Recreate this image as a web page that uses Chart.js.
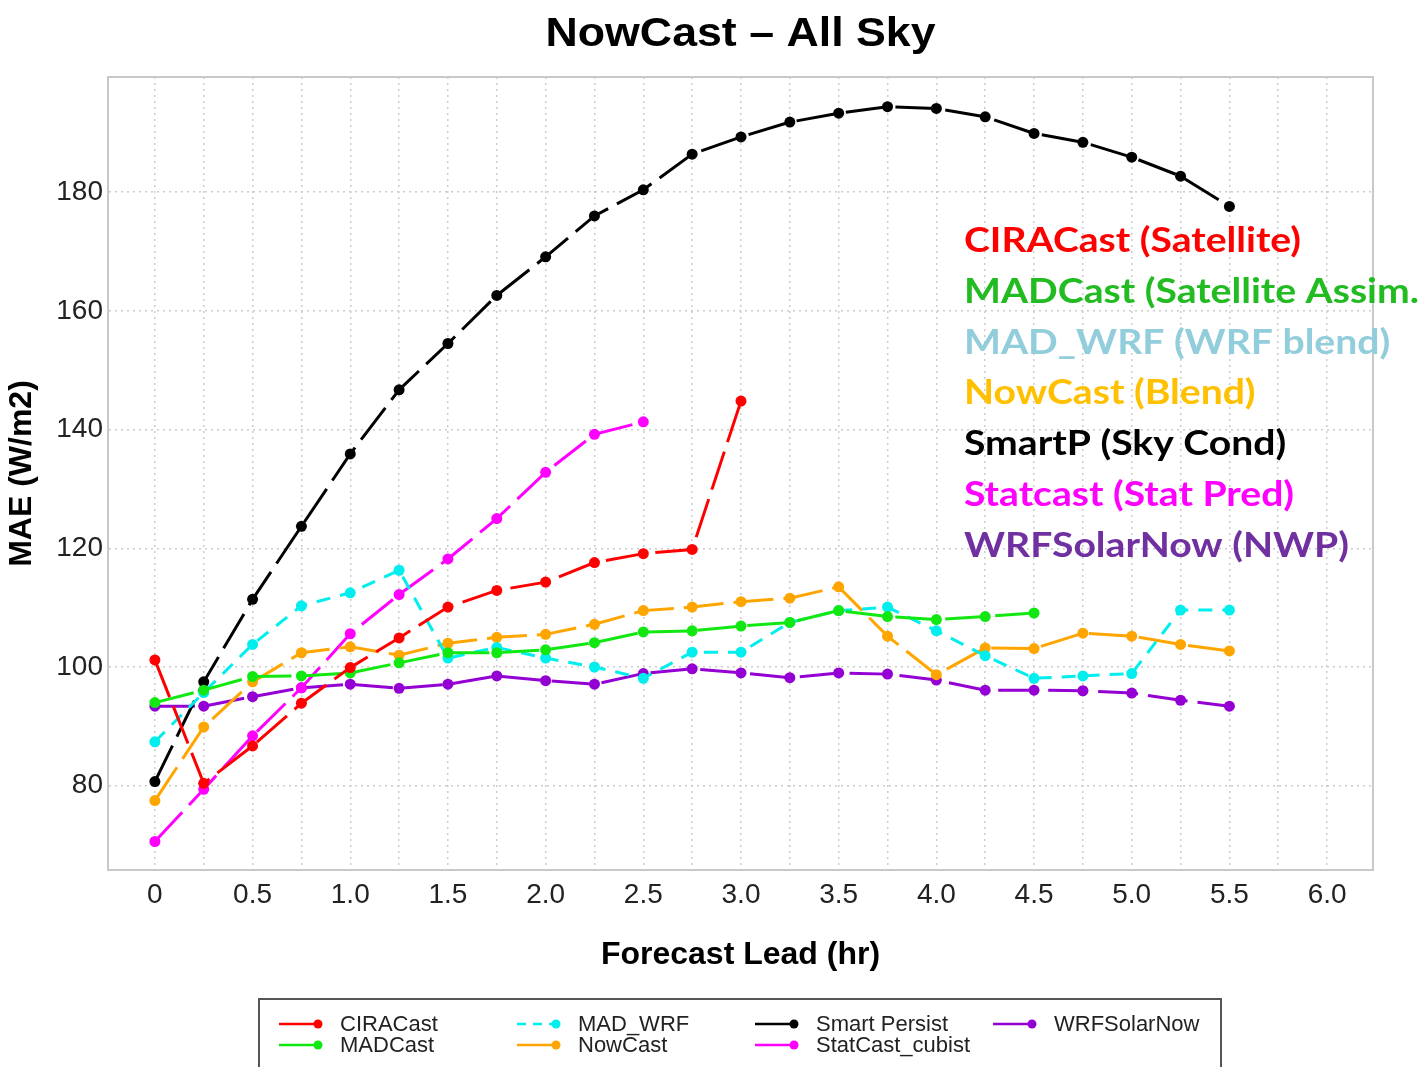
<!DOCTYPE html>
<html>
<head>
<meta charset="utf-8">
<title>NowCast - All Sky</title>
<script src="https://cdn.jsdelivr.net/npm/chart.js@4.4.1/dist/chart.umd.min.js"></script>
<style>
  html,body{margin:0;padding:0;background:#fff;}
  #wrap{width:1423px;height:1067px;overflow:hidden;}
</style>
</head>
<body>
<div id="wrap"><canvas id="mae_chart" width="1423" height="1067"></canvas></div>
<script>
// forecast lead (hr) for every point
const leadHours=[0,0.25,0.5,0.75,1.0,1.25,1.5,1.75,2.0,2.25,2.5,2.75,3.0,3.25,3.5,3.75,4.0,4.25,4.5,4.75,5.0,5.25,5.5];

// labelled x ticks
const xTickValues=[0,0.5,1.0,1.5,2.0,2.5,3.0,3.5,4.0,4.5,5.0,5.5,6.0];
const xTickLabels=['0','0.5','1.0','1.5','2.0','2.5','3.0','3.5','4.0','4.5','5.0','5.5','6.0'];
const yTickValues=[80,100,120,140,160,180];

// MAE (W/m2)
const ciraCast=[101.2,80.4,86.7,93.9,99.9,104.9,110.1,112.9,114.3,117.6,119.1,119.8,144.8];
const madCast=[94.0,96.1,98.4,98.5,99.0,100.7,102.4,102.4,102.9,104.1,105.9,106.1,106.9,107.5,109.5,108.5,108.0,108.5,109.1];
const madWrf=[87.4,95.7,103.8,110.3,112.5,116.3,101.5,103.3,101.5,100.0,98.1,102.5,102.5,107.5,109.5,110.1,106.1,101.9,98.1,98.5,98.9,109.6,109.6];
const nowCast=[77.5,89.9,97.5,102.4,103.4,102.0,104.0,105.0,105.5,107.2,109.5,110.1,111.0,111.6,113.5,105.2,98.7,103.2,103.1,105.7,105.2,103.8,102.7];
const smartPersist=[80.7,97.5,111.4,123.7,135.9,146.7,154.5,162.6,169.1,176.0,180.4,186.4,189.3,191.8,193.3,194.4,194.1,192.7,189.9,188.4,185.9,182.7,177.6];
const statCast=[70.6,79.4,88.4,96.5,105.6,112.2,118.2,125.0,132.8,139.2,141.3];
const wrfSolarNow=[93.4,93.4,95.0,96.5,97.1,96.4,97.1,98.5,97.7,97.1,98.9,99.7,99.0,98.2,99.0,98.8,97.8,96.1,96.1,96.0,95.6,94.4,93.4];

const seriesNames=['CIRACast','MADCast','MAD_WRF','NowCast','Smart Persist','StatCast_cubist','WRFSolarNow'];
const seriesColors=['#ff0000','#11e811','#00eeee','#ffa500','#000000','#ff00ff','#9400d3'];

// coloured notes on the right
const noteTexts=['CIRACast (Satellite)','MADCast (Satellite Assim.','MAD_WRF (WRF blend)','NowCast (Blend)','SmartP (Sky Cond)','Statcast (Stat Pred)','WRFSolarNow (NWP)'];
const noteColors=['#ff0000','#22bb22','#92cddc','#ffc000','#000000','#ff00ff','#7030a0'];

function toPoints(vals){
	return vals.map((v,i)=>({x:leadHours[i],y:v}));
}

const allSeries=[ciraCast,madCast,madWrf,nowCast,smartPersist,statCast,wrfSolarNow];
const datasets=allSeries.map((vals,i)=>({
	label:seriesNames[i],
	data:toPoints(vals),
	borderColor:seriesColors[i],
	backgroundColor:seriesColors[i],
	borderWidth:3,
	borderDash:seriesNames[i]=='MAD_WRF'?[14,10]:[40,10],
	pointRadius:5.5,
	pointBorderWidth:0,
	pointBackgroundColor:seriesColors[i],
	fill:false,
	tension:0
}));

//title, frame, notes and the boxed legend at the bottom
const decorPlugin={
	id:'decor',
	afterDraw(chart){
		const ctx=chart.ctx;
		const area=chart.chartArea;
		ctx.save();
		// frame
		ctx.strokeStyle='#c8c8c8';
		ctx.lineWidth=2;
		ctx.strokeRect(area.left,area.top,area.right-area.left,area.bottom-area.top);

		// title, a bit wider than normal like the original
		ctx.fillStyle='#000';
		ctx.font='bold 40px "Liberation Sans", Arial, sans-serif';
		ctx.textBaseline='alphabetic';
		ctx.textAlign='center';
		const title='NowCast \u2013 All Sky';
		const w=ctx.measureText(title).width;
		ctx.save();
		ctx.translate((area.left+area.right)/2,46);
		ctx.scale(390/w,1);
		ctx.fillText(title,0,0);
		ctx.restore();

		// notes (Calibri-like, widened to match)
		ctx.textAlign='left';
		ctx.font='bold 35px Lato, "Open Sans", sans-serif';
		const k=337/ctx.measureText(noteTexts[0]).width;
		noteTexts.forEach((t,i)=>{
			ctx.save();
			ctx.translate(964,252+i*50.8);
			ctx.scale(k,1);
			ctx.fillStyle=noteColors[i];
			ctx.fillText(t,0,0);
			ctx.restore();
		});

		// legend box
		ctx.strokeStyle='#555';
		ctx.lineWidth=2;
		ctx.strokeRect(259,999,962,120);
		const colX=[279,517,755,993];
		const rowY=[1024,1045];
		ctx.font='22px "Liberation Sans", Arial, sans-serif';
		ctx.textBaseline='middle';
		chart.data.datasets.forEach((ds,i)=>{
			const c=Math.floor(i/2), r=i%2;
			const x=colX[c], y=rowY[r];
			ctx.strokeStyle=ds.borderColor;
			ctx.lineWidth=2.5;
			ctx.setLineDash(ds.label=='MAD_WRF'?[9,7]:[]);
			ctx.beginPath();
			ctx.moveTo(x,y);
			ctx.lineTo(x+39,y);
			ctx.stroke();
			ctx.setLineDash([]);
			ctx.fillStyle=ds.borderColor;
			ctx.beginPath();
			ctx.arc(x+39,y,4.5,0,Math.PI*2);
			ctx.fill();
			ctx.fillStyle='#222';
			ctx.fillText(ds.label,x+61,y+1);
		});
		ctx.restore();
	}
};

const ctx=document.getElementById('mae_chart').getContext('2d');
const maeChart=new Chart(ctx,{
	type:'line',
	data:{datasets:datasets},
	options:{
		responsive:false,
		animation:false,
		devicePixelRatio:1,
		layout:{padding:{top:77,right:50,left:0,bottom:0}},
		plugins:{
			legend:{display:false},
			title:{display:false},
			tooltip:{enabled:false}
		},
		scales:{
			x:{
				type:'linear',
				min:-0.24,
				max:6.235,
				afterFit(scale){ scale.height=197; },
				ticks:{
					stepSize:0.25,
					includeBounds:false,
					autoSkip:false,
					maxRotation:0,
					padding:8,
					color:'#222',
					font:{family:'"Liberation Sans", Arial, sans-serif',size:28},
					callback(value){
						const k=xTickValues.indexOf(value);
						return k>=0?xTickLabels[k]:'';
					}
				},
				grid:{color:'#cccccc',lineWidth:1.5,drawTicks:false},
				border:{dash:[2,4],color:'#c8c8c8',width:2},
				title:{
					display:true,
					text:'Forecast Lead (hr)',
					color:'#000',
					font:{family:'"Liberation Sans", Arial, sans-serif',size:32,weight:'bold'},
					padding:{top:0,bottom:93}
				}
			},
			y:{
				min:65.8,
				max:199.4,
				afterFit(scale){ scale.width=108; },
				afterBuildTicks(scale){ scale.ticks=yTickValues.map(v=>({value:v})); },
				ticks:{
					padding:5,
					color:'#222',
					font:{family:'"Liberation Sans", Arial, sans-serif',size:28}
				},
				grid:{color:'#cccccc',lineWidth:1.5,drawTicks:false},
				border:{dash:[2,4],color:'#c8c8c8',width:2},
				title:{
					display:true,
					text:'MAE (W/m2)',
					color:'#000',
					font:{family:'"Liberation Sans", Arial, sans-serif',size:32,weight:'bold'},
					padding:{top:3,bottom:0}
				}
			}
		}
	},
	plugins:[decorPlugin]
});
</script>
</body>
</html>
